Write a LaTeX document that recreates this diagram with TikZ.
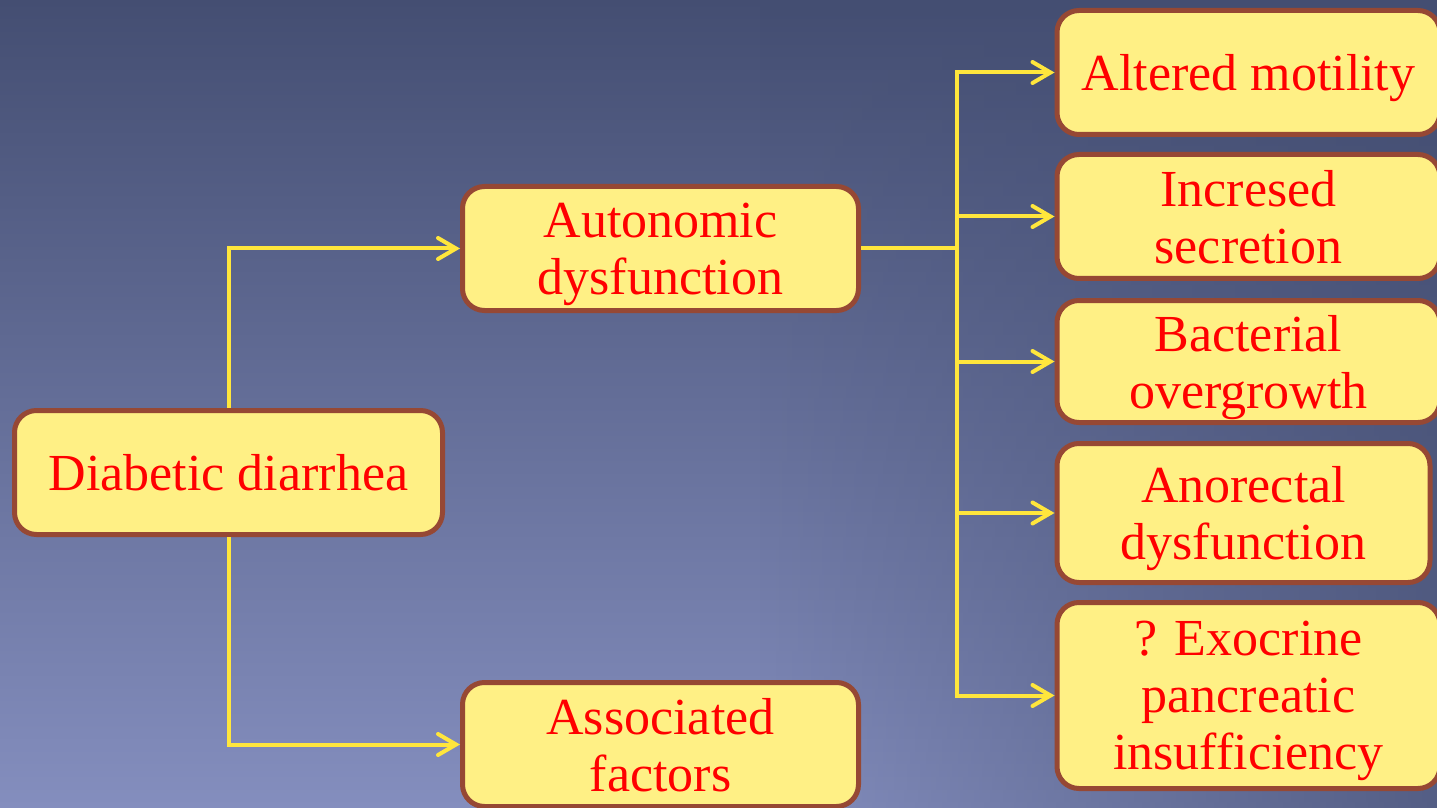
\documentclass[tikz,border=0pt]{standalone}
\usepackage{fontspec}
\setmainfont{Liberation Serif}
\usetikzlibrary{positioning}
\usetikzlibrary{arrows.meta}
\usetikzlibrary{fadings}
\definecolor{slideTop}{RGB}{68,78,114}
\definecolor{slideGlow}{RGB}{132,142,190}
\definecolor{boxFill}{RGB}{255,240,133}
\definecolor{boxEdge}{RGB}{150,72,52}
\definecolor{flowYellow}{RGB}{255,230,60}
\tikzfading[name=darkright,left color=transparent!100,right color=transparent!0]
\tikzset{
  cause/.style={rectangle,rounded corners=11pt,draw=boxEdge,fill=boxFill,
                line width=2.5pt,align=center,text=red,inner sep=0pt,
                text depth=0pt,font=\fontsize{26}{28.5}\selectfont},
  rootcause/.style={cause,minimum width=214pt,minimum height=62pt},
  midcause/.style={cause,minimum width=198pt,minimum height=62pt},
  leafcause/.style={cause,anchor=west,minimum width=191.5pt},
  flow/.style={-{Straight Barb[length=9pt,width=10.5pt,line cap=round]},
               line width=2pt,draw=flowYellow},
}

\begin{document}
\begin{tikzpicture}[x=0.5pt,y=-0.5pt]
  \useasboundingbox (0,0) rectangle (1437,808);

  % slide background
  \shade[top color=slideTop,bottom color=slideGlow] (0,0) rectangle (1437,808);
  \fill[slideTop,opacity=0.75,path fading=darkright] (760,0) rectangle (1437,808);

  \node[rootcause] (diarrheaBox) at (228.5,472.5) {Diabetic diarrhea};
  \node[midcause] (autonomicBox) at (660.5,248.5) {Autonomic\\dysfunction};
  \node[midcause] (associatedBox) at (660.5,744.5) {Associated\\factors};

  \node[leafcause,minimum height=62pt] (motilityBox) at (1054.5,72.5)
      {Altered motility};
  \node[leafcause,minimum height=62pt] (secretionBox) at (1054.5,216.5)
      {Incresed\\secretion};
  \node[leafcause,minimum height=61pt] (overgrowthBox) at (1054.5,361.5)
      {Bacterial\\overgrowth};
  \node[leafcause,minimum height=69.5pt,minimum width=186.5pt]
      (anorectalBox) at (1054.5,513) {Anorectal\\dysfunction};
  \node[leafcause,minimum height=93pt] (pancreaticBox) at (1054.5,695.5)
      {? Exocrine\\pancreatic\\insufficiency};

  \coordinate (autonomicHub) at (957,248.5);

  \draw[flow] (diarrheaBox.north) |- (autonomicBox.west);
  \draw[flow] (diarrheaBox.south) |- (associatedBox.west);
  \draw[flow,-] (autonomicBox.east) -- (autonomicHub);
  \foreach \leaf in {motilityBox,secretionBox,overgrowthBox,anorectalBox,pancreaticBox} {
    \draw[flow] (autonomicHub) |- (\leaf.west);
  }
\end{tikzpicture}
\end{document}
